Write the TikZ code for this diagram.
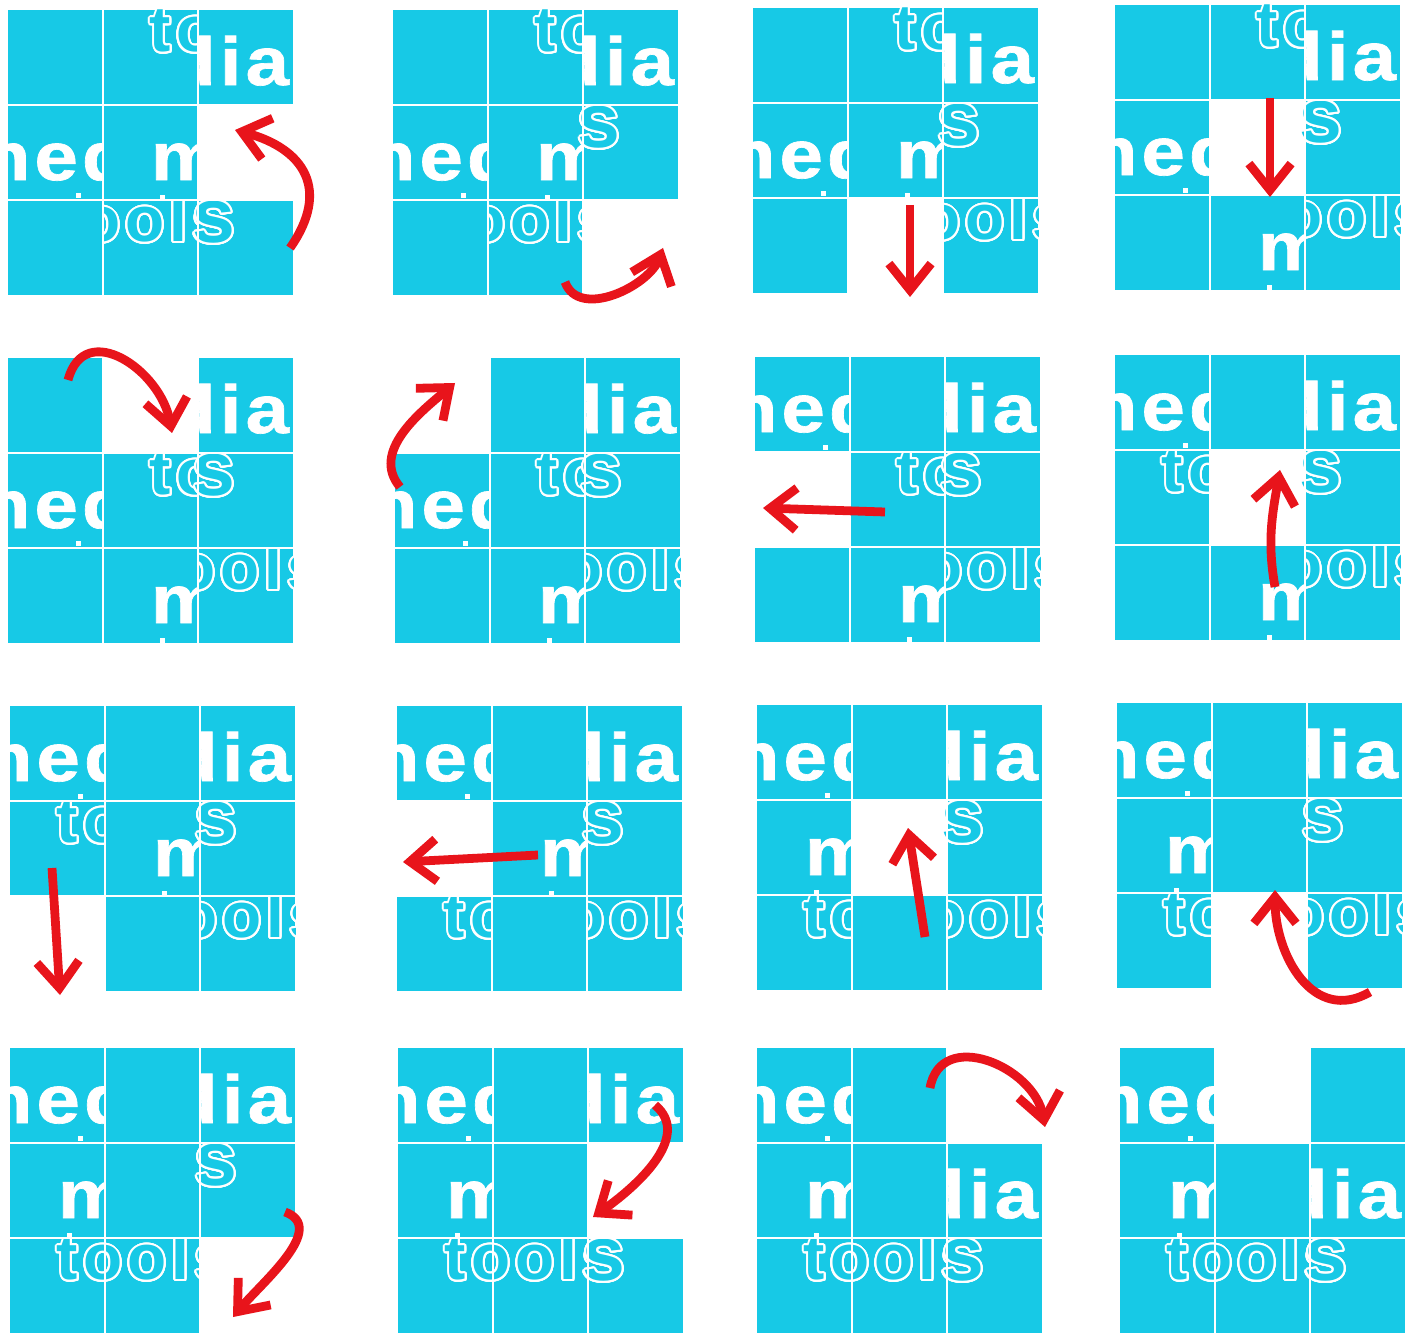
\documentclass[tikz,border=0pt]{standalone}
\usepackage{fontspec}
\usepackage{contour}
\usetikzlibrary{arrows.meta}

\newfontfamily\logofont{Liberation Sans}[FakeStretch=1.15,LetterSpace=6,FakeBold=1]
\newfontfamily\toolsfont{Liberation Sans}[LetterSpace=8]
\newcommand{\boldlogo}{\logofont\bfseries\fontsize{38.7pt}{40pt}\selectfont}
\newcommand{\toolslogo}{\toolsfont\bfseries\fontsize{36.4pt}{38pt}\selectfont}
\newcommand{\biglogo}{\toolsfont\bfseries\fontsize{43.7pt}{45pt}\selectfont}
\contourlength{1.1pt}
\contournumber{32}

% one tile of the puzzle: #1 = left, #2 = top (pixels, y downwards)
\newcommand{\tileblank}[2]{\fill[tilefill] (#1,-#2) rectangle ++(\cell,-\cell);}
\newcommand{\tileG}[2]{\tileblank{#1}{#2}}
\newcommand{\tileH}[2]{\tileblank{#1}{#2}}
\newcommand{\tileO}[2]{}
\newcommand{\tileA}[2]{%
  \tileblank{#1}{#2}
  \begin{scope}
    \clip (#1,-#2) rectangle ++(\cell,-\cell);
    \node[boldword] (wA) at (#1-0.50*\cell,-#2-0.79*\cell) {med};
  \end{scope}
  \fill[white] (#1+0.72*\cell,-#2-0.93*\cell) rectangle ++(5,-5);}
\newcommand{\tileC}[2]{%
  \tileblank{#1}{#2}
  \begin{scope}
    \clip (#1,-#2) rectangle ++(\cell,-\cell);
    \node[boldword] (wC) at (#1-0.32*\cell,-#2-0.79*\cell) {dia};
  \end{scope}}
\newcommand{\tileD}[2]{%
  \tileblank{#1}{#2}
  \begin{scope}
    \clip (#1,-#2) rectangle ++(\cell,-\cell);
    \node[boldword] (wD) at (#1+0.50*\cell,-#2-0.79*\cell) {m};
  \end{scope}
  \fill[white] (#1+0.60*\cell,-#2-0.95*\cell) rectangle ++(5,-5);}
\newcommand{\tileB}[2]{%
  \tileblank{#1}{#2}
  \begin{scope}
    \clip (#1,-#2) rectangle ++(\cell,-\cell);
    \node[toolsword] (wB) at (#1+0.49*\cell,-#2-0.44*\cell) {\contour{white}{tools}};
  \end{scope}}
\newcommand{\tileE}[2]{%
  \tileblank{#1}{#2}
  \begin{scope}
    \clip (#1,-#2) rectangle ++(\cell,-\cell);
    \node[toolsword] (wE) at (#1-0.51*\cell,-#2-0.44*\cell) {\contour{white}{tools}};
  \end{scope}}
\newcommand{\tileF}[2]{%
  \tileblank{#1}{#2}
  \begin{scope}
    \clip (#1-0.08*\cell,-#2) rectangle ++(1.08*\cell,-\cell);
    \node[toolsword, font=\biglogo] (wF) at (#1-1.80*\cell,-#2-0.45*\cell) {\contour{white}{tools}};
  \end{scope}}

% a 3x3 board: #1 = left, #2 = top, #3 = tiles row by row (O = hole)
\newcommand{\panel}[3]{%
  \foreach \t [count=\i from 0] in {#3} {
    \pgfmathtruncatemacro{\col}{mod(\i,3)}
    \pgfmathtruncatemacro{\row}{\i/3}
    \pgfmathsetmacro{\tx}{#1+\col*\cell}
    \pgfmathsetmacro{\ty}{#2+\row*\cell}
    \csname tile\t\endcsname{\tx}{\ty}
  }
  \foreach \k in {1,2} {
    \draw[gridline] (#1+\k*\cell,-#2) -- ++(0,-3*\cell);
    \draw[gridline] (#1,-#2-\k*\cell) -- ++(3*\cell,0);
  }}

\begin{document}
\begin{tikzpicture}[x=0.2mm, y=0.2mm,
    tilefill/.style={fill=tilecyan},
    boldword/.style={anchor=base west, inner sep=0pt, text=white, font=\boldlogo},
    toolsword/.style={anchor=base west, inner sep=0pt, text=tilecyan, font=\toolslogo},
    gridline/.style={white, line width=1.1pt},
    move/.style={draw=movered, line width=5pt, -{Straight Barb[length=15pt,width=24pt]}}]
    \def\cell{95}

    \definecolor{tilecyan}{HTML}{17C9E6}
    \definecolor{movered}{HTML}{E8141B}

    \fill[white] (0,0) rectangle (1410,-1333);
    \useasboundingbox (0,0) rectangle (1410,-1333);

    % Boards, first row
    \panel{8}{10}{G,B,C,A,D,O,H,E,F}
    \panel{393}{10}{G,B,C,A,D,F,H,E,O}
    \panel{753}{8}{G,B,C,A,D,F,H,O,E}
    \panel{1115}{5}{G,B,C,A,O,F,H,D,E}

    % Boards, second row
    \panel{8}{358}{G,O,C,A,B,F,H,D,E}
    \panel{395}{358}{O,G,C,A,B,F,H,D,E}
    \panel{755}{357}{A,G,C,O,B,F,H,D,E}
    \panel{1115}{355}{A,G,C,B,O,F,H,D,E}

    % Boards, third row
    \panel{10}{706}{A,G,C,B,D,F,O,H,E}
    \panel{397}{706}{A,G,C,O,D,F,B,H,E}
    \panel{757}{705}{A,G,C,D,O,F,B,H,E}
    \panel{1117}{703}{A,G,C,D,H,F,B,O,E}

    % Boards, fourth row
    \panel{10}{1048}{A,G,C,D,H,F,B,E,O}
    \panel{398}{1048}{A,G,C,D,H,O,B,E,F}
    \panel{757}{1048}{A,G,O,D,H,C,B,E,F}
    \panel{1120}{1048}{A,O,G,D,H,C,B,E,F}

    % Moves
    \coordinate (m1s) at (290,-248);   \coordinate (m1e) at (235,-130);
    \coordinate (m2s) at (565,-282);   \coordinate (m2e) at (663,-248);
    \coordinate (m3s) at (910,-205);   \coordinate (m3e) at (910,-297);
    \coordinate (m4s) at (1270,-98);   \coordinate (m4e) at (1270,-197);
    \coordinate (m5s) at (68,-380);    \coordinate (m5e) at (172,-433);
    \coordinate (m6s) at (400,-487);   \coordinate (m6e) at (455,-383);
    \coordinate (m7s) at (885,-512);   \coordinate (m7e) at (763,-508);
    \coordinate (m8s) at (1275,-587);  \coordinate (m8e) at (1280,-470);
    \coordinate (m9s) at (52,-868);    \coordinate (m9e) at (60,-995);
    \coordinate (m10s) at (538,-855);  \coordinate (m10e) at (403,-862);
    \coordinate (m11s) at (925,-937);  \coordinate (m11e) at (908,-828);
    \coordinate (m12s) at (1370,-992); \coordinate (m12e) at (1275,-890);
    \coordinate (m13s) at (285,-1212); \coordinate (m13e) at (233,-1317);
    \coordinate (m14s) at (655,-1105); \coordinate (m14e) at (593,-1217);
    \coordinate (m15s) at (930,-1088); \coordinate (m15e) at (1045,-1127);

    \draw[move] (m1s) to[out=55,in=-15,looseness=1.4] (m1e);
    \draw[move] (m2s) to[out=-70,in=-110] (m2e);
    \draw[move] (m3s) -- (m3e);
    \draw[move] (m4s) -- (m4e);
    \draw[move] (m5s) to[out=75,in=100,looseness=1.4] (m5e);
    \draw[move] (m6s) to[out=130,in=-140] (m6e);
    \draw[move] (m7s) -- (m7e);
    \draw[move] (m8s) to[out=100,in=-100] (m8e);
    \draw[move] (m9s) -- (m9e);
    \draw[move] (m10s) -- (m10e);
    \draw[move] (m11s) -- (m11e);
    \draw[move] (m12s) to[out=-150,in=-90,looseness=1.2] (m12e);
    \draw[move] (m13s) to[out=-20,in=50] (m13e);
    \draw[move] (m14s) to[out=-40,in=35] (m14e);
    \draw[move] (m15s) to[out=80,in=100,looseness=1.3] (m15e);
\end{tikzpicture}
\end{document}
